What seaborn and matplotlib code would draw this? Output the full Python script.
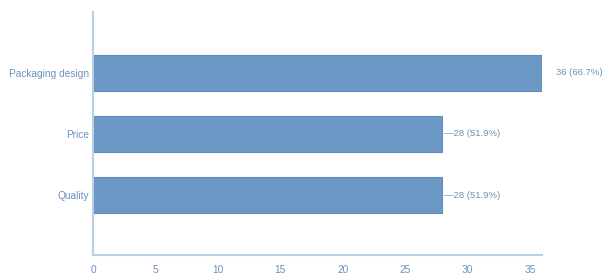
import matplotlib
matplotlib.use("Agg")
import matplotlib.pyplot as plt
import seaborn as sns
import pandas as pd

# data
categories = ["Packaging design", "Price", "Quality"]
counts = [36, 28, 28]
labels = ["36 (66.7%)", "\u201428 (51.9%)", "\u201428 (51.9%)"]

bar_color = "#6b98c4"
axis_color = "#b9cfe3"
text_color = "#6d91bb"

sns.set_theme(style="white")
plt.rcParams["font.family"] = ["Liberation Sans", "DejaVu Sans"]

df = pd.DataFrame({"category": categories, "count": counts})

fig, ax = plt.subplots(figsize=(6.08, 2.77), dpi=100)
sns.barplot(data=df, x="count", y="category", orient="h", color=bar_color,
            saturation=1, width=0.6, edgecolor="#5f8cb8", linewidth=0.8, ax=ax)

for i, (v, lab) in enumerate(zip(counts, labels)):
    off = 1.1 if v == max(counts) else 0.1
    ax.text(v + off, i, lab, va="center", ha="left", fontsize=6.8, color=text_color)

ax.set_xlim(0, 36)
ax.set_ylim(2.98, -1.0)
ax.set_xticks(range(0, 36, 5))
ax.set_xlabel("")
ax.set_ylabel("")
for s in ["top", "right"]:
    ax.spines[s].set_visible(False)
for s in ["left", "bottom"]:
    ax.spines[s].set_color(axis_color)
    ax.spines[s].set_linewidth(1.5)
ax.tick_params(axis="both", colors=text_color, labelsize=7.3, length=0)
ax.tick_params(axis="x", pad=7)
ax.tick_params(axis="y", pad=3)

plt.subplots_adjust(left=0.153, right=0.892, top=0.957, bottom=0.08)
plt.savefig("out.png", dpi=100)
